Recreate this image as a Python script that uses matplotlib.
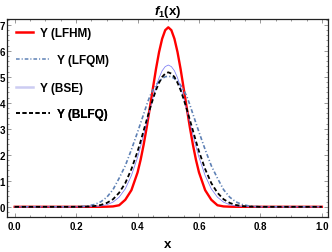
import numpy as np
import matplotlib
matplotlib.use('Agg')
import matplotlib.pyplot as plt
from matplotlib.lines import Line2D
from matplotlib.ticker import MultipleLocator, FormatStrFormatter

plt.rcParams['font.family'] = ['Liberation Sans', 'DejaVu Sans']
plt.rcParams['font.weight'] = 'bold'
plt.rcParams['mathtext.fontset'] = 'custom'
plt.rcParams['mathtext.bf'] = 'Liberation Sans:bold'
plt.rcParams['mathtext.it'] = 'Liberation Sans:italic:bold'
plt.rcParams['mathtext.rm'] = 'Liberation Sans:bold'

# sample positions: 0.02 steps on the tails, 0.01 steps around the peak
x = np.concatenate([np.linspace(0, 0.40, 21),
                    np.linspace(0.41, 0.59, 19),
                    np.linspace(0.60, 1.0, 21)])

# values
lfhm = [0, 0, 0, 0, 0, 0, 0, 0, 0, 0, 0, 0, 0, 0, 0,
        0.005, 0.015, 0.06, 0.27, 0.64, 1.32,
        1.81, 2.40, 3.07, 3.81, 4.56, 5.30, 5.95, 6.46, 6.79,
        6.90,
        6.79, 6.46, 5.95, 5.30, 4.56, 3.81, 3.07, 2.40, 1.81,
        1.32, 0.64, 0.27, 0.06, 0.015, 0.005,
        0, 0, 0, 0, 0, 0, 0, 0, 0, 0, 0, 0, 0, 0, 0]
lfqm = [0, 0, 0, 0, 0, 0, 0, 0, 0, 0,
        0.005, 0.015, 0.04, 0.09, 0.19, 0.37, 0.66, 1.10, 1.58, 2.20, 2.87,
        3.22, 3.57, 3.93, 4.25, 4.49, 4.68, 4.83, 4.93, 5.00,
        5.02,
        5.00, 4.93, 4.83, 4.68, 4.49, 4.25, 3.93, 3.57, 3.22,
        2.87, 2.20, 1.58, 1.10, 0.66, 0.37, 0.19, 0.09, 0.04, 0.015, 0.005,
        0, 0, 0, 0, 0, 0, 0, 0, 0, 0]
bse = [0, 0, 0, 0, 0, 0, 0, 0, 0, 0, 0, 0,
       0.003, 0.01, 0.03, 0.08, 0.18, 0.37, 0.69, 1.20, 1.90,
       2.32, 2.78, 3.25, 3.73, 4.19, 4.61, 4.96, 5.23, 5.39,
       5.45,
       5.39, 5.23, 4.96, 4.61, 4.19, 3.73, 3.25, 2.78, 2.32,
       1.90, 1.20, 0.69, 0.37, 0.18, 0.08, 0.03, 0.01, 0.003,
       0, 0, 0, 0, 0, 0, 0, 0, 0, 0, 0, 0]
blfq = [0, 0, 0, 0, 0, 0, 0, 0, 0, 0, 0,
        0.005, 0.01, 0.03, 0.07, 0.15, 0.29, 0.54, 0.91, 1.45, 2.13,
        2.52, 2.94, 3.35, 3.76, 4.14, 4.49, 4.77, 4.99, 5.12,
        5.17,
        5.12, 4.99, 4.77, 4.49, 4.14, 3.76, 3.35, 2.94, 2.52,
        2.13, 1.45, 0.91, 0.54, 0.29, 0.15, 0.07, 0.03, 0.01, 0.005,
        0, 0, 0, 0, 0, 0, 0, 0, 0, 0, 0]

fig = plt.figure(figsize=(3.32, 2.53), dpi=100)
ax = fig.add_axes([0.022, 0.139, 0.967, 0.782])

ax.plot(x, lfhm, color='#FF0000', lw=1.7)
ax.plot(x, lfqm, color='#5E81B5', lw=1.2, dashes=(2.4, 1.3, 0.7, 1.3))
ax.plot(x, bse, color='#7B7BF5', lw=0.55)
ax.plot(x, blfq, color='black', lw=1.3, dashes=(2.4, 1.5))

ax.set_xlim(-0.024, 1.021)
ax.set_ylim(-0.385, 7.22)
ax.xaxis.set_major_locator(MultipleLocator(0.2))
ax.xaxis.set_minor_locator(MultipleLocator(0.05))
ax.yaxis.set_major_locator(MultipleLocator(1))
ax.yaxis.set_minor_locator(MultipleLocator(0.2))
ax.xaxis.set_major_formatter(FormatStrFormatter('%.1f'))
ax.tick_params(which='both', direction='in', top=True, right=True,
               color='#888888', width=0.6, labelsize=7)
ax.tick_params(which='major', length=3)
ax.tick_params(which='minor', length=1.6)
ax.tick_params(axis='y', pad=1.5)
ax.tick_params(axis='x', pad=3)
for s in ax.spines.values():
    s.set_linewidth(0.9)
    s.set_color('#222222')

ax.set_xlabel('x', fontsize=9.5, fontweight='bold', labelpad=5)
ax.set_title(r'$\mathit{f}_{\mathbf{1}}\mathbf{(x)}$', fontsize=9.5, pad=3)

# legend, one entry per row (line lengths differ between rows)
entries = [
    (Line2D([], [], color='#FF0000', lw=1.8), 'Y (LFHM)', 1.45, 0.929),
    (Line2D([], [], color='#5E81B5', lw=1.1, dashes=(2.4, 1.3, 0.7, 1.3)), 'Y (LFQM)', 2.9, 0.793),
    (Line2D([], [], color='#CCCCF2', lw=1.8), 'Y (BSE)', 1.45, 0.651),
    (Line2D([], [], color='black', lw=1.2, dashes=(2.4, 1.5)), 'Y (BLFQ)', 2.9, 0.52),
]
for h, lab, hl, yc in entries:
    leg = ax.legend([h], [lab], loc='center left', bbox_to_anchor=(0.027, yc),
                    frameon=False, borderpad=0, borderaxespad=0,
                    handlelength=hl, handletextpad=0.6,
                    prop={'size': 8.5, 'weight': 'bold'})
    ax.add_artist(leg)

fig.savefig('out.png', dpi=100)
